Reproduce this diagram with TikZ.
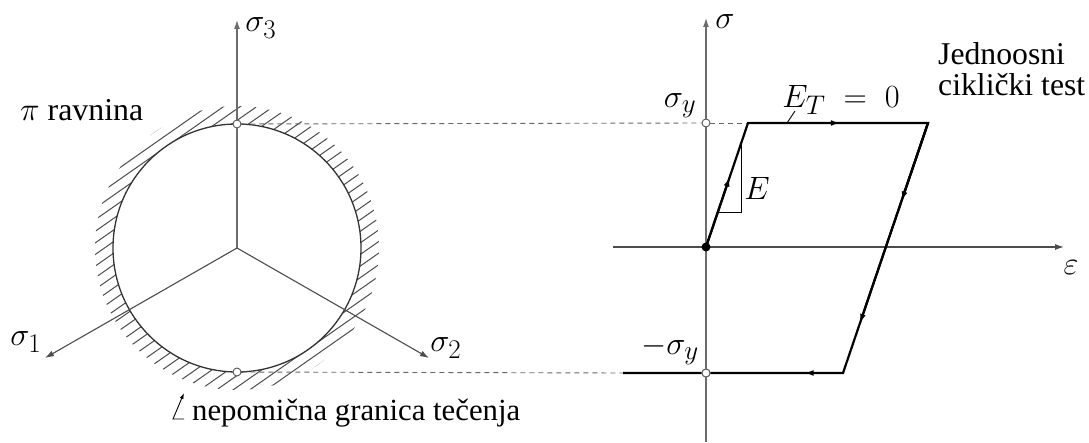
\documentclass[tikz,border=0pt]{standalone}
\usepackage{graphicx}
\usepackage{fontspec}
\setmainfont{Liberation Serif}
\newfontfamily\serifx{Liberation Serif}
\usetikzlibrary{arrows.meta,calc}
\newcommand{\fitw}[2]{\resizebox{#1pt}{!}{#2}}
\newcommand{\mymath}[1]{\scalebox{1.3}{$#1$}}
\begin{document}
\begin{tikzpicture}[x=1pt,y=-1pt,
  txt/.style={inner sep=0pt, font=\serifx\fontsize{24}{26}\selectfont},
  mth/.style={inner sep=0pt, font=\fontsize{24.88}{27}\selectfont},
  axisline/.style={draw=gray!85!black, line width=1.1pt},
  darkaxis/.style={draw=black!70, line width=1.1pt},
  axtip/.style={-{Latex[length=9pt,width=6pt]}},
  ring/.style={draw=black!80, line width=1.3pt},
  hatch/.style={draw=black!70, line width=1pt},
  dashline/.style={draw=gray!80!black, line width=0.9pt, dash pattern=on 5pt off 4pt},
  cyc/.style={draw=black, line width=2.2pt},
  cyctip/.style={draw=black, line width=2.2pt, -{Latex[length=9pt,width=6pt]}},
  thin/.style={draw=black, line width=0.9pt},
  opendot/.style={circle, draw=gray!70!black, fill=white, line width=0.9pt, minimum size=8pt, inner sep=0pt},
  fulldot/.style={circle, fill=black, minimum size=9pt, inner sep=0pt}
]
\useasboundingbox (0,0) rectangle (1089,443);

% ---------- left: pi plane ----------
\coordinate (C) at (237,248);
\coordinate (S3) at (237,20);
\coordinate (S1) at (45,358);
\coordinate (S2) at (429,358);

\begin{scope}[even odd rule]
  \clip (C) circle[radius=142] (C) circle[radius=124];
  \foreach \k in {-16,...,16}{
    \draw[hatch, shift={(C)}] ({\k*9.5*0.5736-170*0.8192},{\k*9.5*0.8192+170*0.5736}) -- ({\k*9.5*0.5736+170*0.8192},{\k*9.5*0.8192-170*0.5736});
  }
\end{scope}
\draw[ring] (C) circle[radius=124];

\draw[axisline, axtip] (C) -- (S3);
\draw[darkaxis, axtip] (C) -- (S1);
\draw[darkaxis, axtip] (C) -- (S2);

\node[mth] (l3) at (261,28) {\mymath{\sigma_3}};
\node[mth] (l1) at (26,342) {\mymath{\sigma_1}};
\node[mth] (l2) at (446,348) {\mymath{\sigma_2}};
\node[txt, anchor=west] (pi) at (20,110) {\fitw{123}{$\pi$ ravnina}};

\coordinate (L1) at (184,393);
\coordinate (L2) at (173,419);
\coordinate (L3) at (184,419);
\draw[thin, {Latex[length=6pt,width=4pt]}-] (L1) -- (L2) -- (L3);
\node[txt, anchor=west] (nep) at (192,413) {\fitw{328}{nepomična granica tečenja}};

% ---------- right: stress-strain ----------
\coordinate (O) at (706,247);
\coordinate (Sb) at (706,442);
\coordinate (St) at (706,18);
\coordinate (Eb) at (613,247);
\coordinate (Et) at (1064,247);
\coordinate (A) at (748,123);
\coordinate (B) at (928,123);
\coordinate (Cc) at (843,373);
\coordinate (D) at (623,373);
\coordinate (T1) at (741,145);
\coordinate (T2) at (741,212);
\coordinate (T3) at (718,212);
\coordinate (ETa) at (795,111);
\coordinate (ETb) at (787,123);

\node[opendot] (P1) at (237,124) {};
\node[opendot] (P2) at (237,372) {};

\draw[axisline, axtip] (Sb) -- (St);
\draw[darkaxis, axtip] (Eb) -- (Et);

\node[opendot] (Sy) at (706,123) {};
\node[opendot] (mSy) at (706,373) {};

\draw[dashline] (P1) -- (Sy);
\draw[dashline] (Sy) -- (A);
\draw[dashline] (P2) -- (D);

\draw[cyc] (O) -- (A) -- (B) -- (Cc) -- (mSy) -- (D);
\draw[cyctip] (O) -- ($(O)!0.56!(A)$);
\draw[cyctip] (A) -- ($(A)!0.51!(B)$);
\draw[cyctip] (B) -- ($(B)!0.31!(Cc)$);
\draw[cyctip] (B) -- ($(B)!0.80!(Cc)$);
\draw[cyctip] (Cc) -- ($(Cc)!0.28!(mSy)$);

\node[opendot] at (mSy) {};
\node[fulldot] (Od) at (O) {};

\draw[thin] (T1) -- (T2) -- (T3);
\draw[thin] (ETa) -- (ETb);

\node[mth] (sl) at (725,22) {\mymath{\sigma}};
\node[mth] (el) at (1071,268) {\mymath{\varepsilon}};
\node[mth] (syl) at (680,106) {\mymath{\sigma_y}};
\node[mth] (msyl) at (670,350) {\mymath{-\sigma_y}};
\node[mth] (etl) at (841,100) {\mymath{E_T\;=\;0}};
\node[mth] (elab) at (757,188) {\mymath{E}};
\node[txt, anchor=west] (jed) at (938,73) {\fitw{147}{\begin{tabular}{@{}l@{}}Jednoosni\\[-2pt]ciklički test\end{tabular}}};
\end{tikzpicture}
\end{document}
